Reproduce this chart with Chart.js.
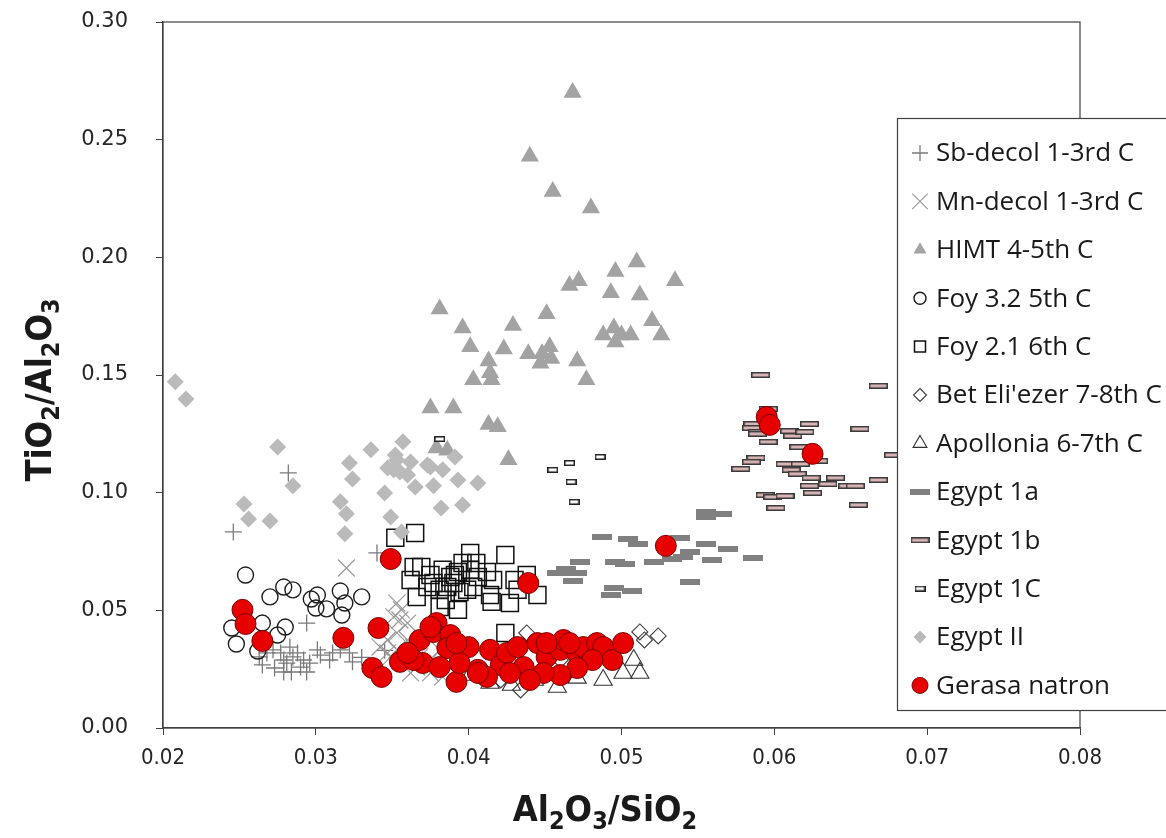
<!DOCTYPE html>
<html>
<head>
<meta charset="utf-8">
<script src="https://cdn.jsdelivr.net/npm/chart.js@4.4.1/dist/chart.umd.min.js"></script>
<style>
  html, body { margin: 0; padding: 0; background: #ffffff; }
  #wrap { position: relative; width: 1166px; height: 838px; }
</style>
</head>
<body>
<div id="wrap"><canvas id="chart" width="1166" height="838"></canvas></div>
<script>
// axis ranges and tick steps
const xTicks = [0.02, 0.03, 0.04, 0.05, 0.06, 0.07, 0.08];
const yTicks = [0.00, 0.05, 0.10, 0.15, 0.20, 0.25, 0.30];

// series values: [Al2O3/SiO2, TiO2/Al2O3]
const sbDecol = [
  [0.0282, 0.1084], [0.0246, 0.0833], [0.0294, 0.0446], [0.0340, 0.0744],
  [0.0268, 0.0319], [0.0272, 0.0332], [0.0277, 0.0319], [0.0279, 0.0289], [0.0281, 0.0276],
  [0.0283, 0.0344], [0.0285, 0.0302], [0.0288, 0.0319], [0.0292, 0.0289], [0.0290, 0.0259],
  [0.0296, 0.0276], [0.0301, 0.0332], [0.0303, 0.0310], [0.0309, 0.0289], [0.0311, 0.0319],
  [0.0316, 0.0332], [0.0322, 0.0319], [0.0324, 0.0281], [0.0265, 0.0268], [0.0273, 0.0255],
  [0.0279, 0.0238], [0.0284, 0.0238], [0.0294, 0.0238], [0.0263, 0.0302], [0.0330, 0.0300],
  [0.0345, 0.0330]
];
const mnDecol = [
  [0.0320, 0.0680], [0.0353, 0.0531], [0.0356, 0.0502], [0.0351, 0.0472], [0.0360, 0.0446],
  [0.0353, 0.0404], [0.0347, 0.0374], [0.0360, 0.0374], [0.0364, 0.0344], [0.0353, 0.0332],
  [0.0349, 0.0302], [0.0368, 0.0302], [0.0357, 0.0289], [0.0375, 0.0289], [0.0366, 0.0259],
  [0.0379, 0.0259], [0.0362, 0.0234], [0.0375, 0.0234], [0.0383, 0.0217], [0.0342, 0.0344],
  [0.0381, 0.0332], [0.0355, 0.0459], [0.0347, 0.0319]
];
const himt = [
  [0.0468, 0.270], [0.0440, 0.243], [0.0455, 0.228], [0.0480, 0.221], [0.0510, 0.198],
  [0.0496, 0.194], [0.0535, 0.190], [0.0472, 0.190], [0.0466, 0.188], [0.0493, 0.185],
  [0.0512, 0.184], [0.0381, 0.178], [0.0396, 0.170], [0.0429, 0.171], [0.0451, 0.176],
  [0.0520, 0.173], [0.0526, 0.167], [0.0488, 0.167], [0.0495, 0.170], [0.0500, 0.167],
  [0.0506, 0.167], [0.0496, 0.164], [0.0401, 0.162], [0.0423, 0.161], [0.0439, 0.159],
  [0.0448, 0.159], [0.0453, 0.162], [0.0454, 0.157], [0.0447, 0.155], [0.0471, 0.156],
  [0.0413, 0.156], [0.0414, 0.151], [0.0403, 0.148], [0.0415, 0.148], [0.0477, 0.148],
  [0.0375, 0.136], [0.0390, 0.136], [0.0413, 0.129], [0.0419, 0.128], [0.0426, 0.114],
  [0.0379, 0.119], [0.0386, 0.118]
];
const foy32 = [
  [0.0254, 0.0650], [0.0270, 0.0557], [0.0279, 0.0599], [0.0285, 0.0587], [0.0297, 0.0548],
  [0.0301, 0.0565], [0.0300, 0.0510], [0.0307, 0.0506], [0.0316, 0.0582], [0.0319, 0.0531],
  [0.0317, 0.0480], [0.0330, 0.0557], [0.0245, 0.0425], [0.0248, 0.0357], [0.0265, 0.0446],
  [0.0280, 0.0429], [0.0275, 0.0395], [0.0262, 0.0327]
];
const foy21 = [
  [0.0352, 0.0808], [0.0365, 0.0829], [0.0364, 0.0684], [0.0369, 0.0684], [0.0362, 0.0629],
  [0.0366, 0.0557], [0.0373, 0.0599], [0.0377, 0.0616], [0.0383, 0.0672], [0.0381, 0.0587],
  [0.0386, 0.0599], [0.0390, 0.0616], [0.0388, 0.0642], [0.0393, 0.0663], [0.0396, 0.0701],
  [0.0401, 0.0744], [0.0401, 0.0672], [0.0405, 0.0701], [0.0406, 0.0642], [0.0403, 0.0599],
  [0.0399, 0.0587], [0.0394, 0.0578], [0.0381, 0.0514], [0.0393, 0.0502], [0.0412, 0.0663],
  [0.0416, 0.0629], [0.0414, 0.0565], [0.0424, 0.0735], [0.0415, 0.0536], [0.0430, 0.0629],
  [0.0432, 0.0587], [0.0438, 0.0650], [0.0445, 0.0565], [0.0427, 0.0531], [0.0424, 0.0404],
  [0.0375, 0.0650], [0.0391, 0.0650], [0.0385, 0.0544]
];
const betEliezer = [
  [0.0438, 0.0404], [0.0434, 0.0162], [0.0512, 0.0408], [0.0515, 0.0374], [0.0524, 0.0391],
  [0.0460, 0.0289], [0.0421, 0.0204]
];
const apollonia = [
  [0.0428, 0.0183], [0.0458, 0.0174], [0.0471, 0.0213], [0.0488, 0.0204], [0.0501, 0.0234],
  [0.0508, 0.0289], [0.0512, 0.0234], [0.0443, 0.0204], [0.0414, 0.0191], [0.0401, 0.0225]
];
const egypt1a = [
  [0.0487, 0.0812], [0.0504, 0.0803], [0.0511, 0.0782], [0.0538, 0.0808], [0.0555, 0.0782],
  [0.0570, 0.0761], [0.0545, 0.0748], [0.0540, 0.0727], [0.0533, 0.0718], [0.0521, 0.0706],
  [0.0559, 0.0714], [0.0586, 0.0723], [0.0473, 0.0706], [0.0496, 0.0706], [0.0502, 0.0697],
  [0.0464, 0.0676], [0.0458, 0.0659], [0.0471, 0.0659], [0.0468, 0.0625], [0.0545, 0.0621],
  [0.0495, 0.0595], [0.0507, 0.0582], [0.0493, 0.0565], [0.0555, 0.0918], [0.0555, 0.0897],
  [0.0566, 0.0910]
];
const egypt1b = [
  [0.0591, 0.1500], [0.0668, 0.1454], [0.0596, 0.1356], [0.0586, 0.1292], [0.0585, 0.1275],
  [0.0589, 0.1258], [0.0589, 0.1250], [0.0596, 0.1216], [0.0610, 0.1262], [0.0612, 0.1241],
  [0.0620, 0.1258], [0.0623, 0.1292], [0.0656, 0.1271], [0.0616, 0.1194], [0.0588, 0.1148],
  [0.0585, 0.1131], [0.0578, 0.1101], [0.0607, 0.1122], [0.0617, 0.1122], [0.0629, 0.1135],
  [0.0611, 0.1097], [0.0615, 0.1080], [0.0624, 0.1063], [0.0640, 0.1063], [0.0668, 0.1054],
  [0.0623, 0.1029], [0.0635, 0.1037], [0.0648, 0.1029], [0.0653, 0.1029], [0.0625, 0.0999],
  [0.0594, 0.0990], [0.0599, 0.0982], [0.0607, 0.0986], [0.0655, 0.0948], [0.0601, 0.0935],
  [0.0678, 0.1160]
];
const egypt1c = [
  [0.0381, 0.1228], [0.0466, 0.1126], [0.0455, 0.1097], [0.0486, 0.1152], [0.0467, 0.1046],
  [0.0469, 0.0961]
];
const egypt2 = [
  [0.0208, 0.1471], [0.0215, 0.1398], [0.0275, 0.1194], [0.0285, 0.1029], [0.0253, 0.0952],
  [0.0256, 0.0888], [0.0270, 0.0880], [0.0322, 0.1126], [0.0324, 0.1058], [0.0336, 0.1182],
  [0.0316, 0.0961], [0.0320, 0.0910], [0.0319, 0.0825], [0.0345, 0.0999], [0.0349, 0.0897],
  [0.0356, 0.0833], [0.0357, 0.1216], [0.0353, 0.1139], [0.0351, 0.1097], [0.0355, 0.1088],
  [0.0347, 0.1105], [0.0360, 0.1075], [0.0365, 0.1024], [0.0373, 0.1118], [0.0377, 0.1029],
  [0.0383, 0.1097], [0.0391, 0.1152], [0.0393, 0.1054], [0.0406, 0.1041], [0.0382, 0.0935],
  [0.0396, 0.0948], [0.0375, 0.1109], [0.0352, 0.1160], [0.0362, 0.1130]
];
const gerasa = [
  [0.0252, 0.0502], [0.0254, 0.0442], [0.0265, 0.0370], [0.0318, 0.0383], [0.0341, 0.0425],
  [0.0349, 0.0718], [0.0337, 0.0255], [0.0343, 0.0217], [0.0355, 0.0281], [0.0439, 0.0616],
  [0.0368, 0.0374], [0.0379, 0.0446], [0.0377, 0.0408], [0.0388, 0.0395], [0.0370, 0.0276],
  [0.0386, 0.0340], [0.0392, 0.0196], [0.0400, 0.0344], [0.0406, 0.0247], [0.0414, 0.0332],
  [0.0421, 0.0268], [0.0425, 0.0319], [0.0432, 0.0344], [0.0436, 0.0259], [0.0445, 0.0361],
  [0.0451, 0.0302], [0.0460, 0.0332], [0.0462, 0.0374], [0.0471, 0.0319], [0.0475, 0.0344],
  [0.0484, 0.0361], [0.0488, 0.0344], [0.0494, 0.0289], [0.0501, 0.0361], [0.0481, 0.0289],
  [0.0471, 0.0255], [0.0460, 0.0225], [0.0449, 0.0234], [0.0440, 0.0204], [0.0427, 0.0234],
  [0.0412, 0.0217], [0.0406, 0.0234], [0.0394, 0.0276], [0.0381, 0.0259], [0.0364, 0.0289],
  [0.0360, 0.0319], [0.0375, 0.0429], [0.0392, 0.0361], [0.0451, 0.0361], [0.0466, 0.0361],
  [0.0595, 0.1322], [0.0597, 0.1288], [0.0625, 0.1165], [0.0529, 0.0774]
];

// small canvases used as point styles for the dash markers
function dashIcon(w, h, fill, stroke) {
  const c = document.createElement('canvas');
  c.width = w;
  c.height = h;
  const g = c.getContext('2d');
  g.fillStyle = fill;
  g.fillRect(0, 0, w, h);
  if (stroke) {
    g.strokeStyle = stroke;
    g.lineWidth = 1.5;
    g.strokeRect(0.75, 0.75, w - 1.5, h - 1.5);
  }
  return c;
}
const dash1a = dashIcon(20, 6, '#808080', null);
const dash1b = dashIcon(19, 6, '#d8b4b4', '#3a3a3a');
const dash1c = dashIcon(11, 6, '#ffffff', '#222222');

// series definitions, bottom to top in drawing order
const series = [
  { label: 'Sb-decol 1-3rd C', data: sbDecol, style: 'cross', r: 8.5, fill: 'transparent', stroke: '#7a7a7a', bw: 1.3, lr: 8 },
  { label: 'Mn-decol 1-3rd C', data: mnDecol, style: 'crossRot', r: 12, fill: 'transparent', stroke: '#9a9a9a', bw: 1.2, lr: 11 },
  { label: 'HIMT 4-5th C', data: himt, style: 'triangle', r: 10.5, fill: '#a3a3a3', stroke: '#a3a3a3', bw: 0, lr: 7.5 },
  { label: 'Foy 3.2 5th C', data: foy32, style: 'circle', r: 8, fill: 'transparent', stroke: '#1e1e1e', bw: 1.4, lr: 6 },
  { label: 'Foy 2.1 6th C', data: foy21, style: 'rect', r: 12, fill: 'transparent', stroke: '#111111', bw: 1.5, lr: 9 },
  { label: "Bet Eli'ezer 7-8th C", data: betEliezer, style: 'rectRot', r: 8, fill: 'transparent', stroke: '#3c3c3c', bw: 1.1, lr: 6.5 },
  { label: 'Apollonia 6-7th C', data: apollonia, style: 'triangle', r: 10.5, fill: 'transparent', stroke: '#333333', bw: 1.1, lr: 8 },
  { label: 'Egypt 1a', data: egypt1a, style: dash1a, r: 10, fill: '#808080', stroke: '#808080', bw: 0, lr: 0 },
  { label: 'Egypt 1b', data: egypt1b, style: dash1b, r: 10, fill: '#d8b4b4', stroke: '#3a3a3a', bw: 0, lr: 0 },
  { label: 'Egypt 1C', data: egypt1c, style: dash1c, r: 6, fill: '#ffffff', stroke: '#222222', bw: 0, lr: 0 },
  { label: 'Egypt II', data: egypt2, style: 'rectRot', r: 8.5, fill: '#bababa', stroke: '#bababa', bw: 0, lr: 6.5 },
  { label: 'Gerasa natron', data: gerasa, style: 'circle', r: 10.5, fill: '#e60000', stroke: '#7a0000', bw: 1, lr: 8 }
];

// draws a marker by hand (used for the legend)
function drawMarker(ctx, s, x, y) {
  const r = s.lr;
  if (typeof s.style !== 'string') {
    const img = s.style;
    ctx.drawImage(img, x - img.width / 2, y - img.height / 2);
    return;
  }
  ctx.save();
  ctx.fillStyle = s.fill;
  ctx.strokeStyle = s.stroke;
  ctx.lineWidth = s.bw || 1;
  ctx.beginPath();
  if (s.style === 'cross') {
    ctx.moveTo(x - r, y); ctx.lineTo(x + r, y);
    ctx.moveTo(x, y - r); ctx.lineTo(x, y + r);
    ctx.stroke();
  } else if (s.style === 'crossRot') {
    const d = r * Math.SQRT1_2;
    ctx.moveTo(x - d, y - d); ctx.lineTo(x + d, y + d);
    ctx.moveTo(x - d, y + d); ctx.lineTo(x + d, y - d);
    ctx.stroke();
  } else if (s.style === 'triangle') {
    ctx.moveTo(x, y - r);
    ctx.lineTo(x + r * 0.866, y + r * 0.5);
    ctx.lineTo(x - r * 0.866, y + r * 0.5);
    ctx.closePath();
    if (s.fill !== 'transparent') ctx.fill();
    if (s.bw) ctx.stroke();
  } else if (s.style === 'circle') {
    ctx.arc(x, y, r, 0, Math.PI * 2);
    if (s.fill !== 'transparent') ctx.fill();
    ctx.stroke();
  } else if (s.style === 'rect') {
    ctx.rect(x - r / 2 - 1, y - r / 2 - 1, r + 2, r + 2);
    ctx.stroke();
  } else if (s.style === 'rectRot') {
    ctx.moveTo(x, y - r); ctx.lineTo(x + r, y); ctx.lineTo(x, y + r); ctx.lineTo(x - r, y);
    ctx.closePath();
    if (s.fill !== 'transparent') ctx.fill();
    if (s.bw) ctx.stroke();
  }
  ctx.restore();
}

// legend box sitting over the right part of the plot
const legendBox = {
  id: 'legendBox',
  afterDraw(chart) {
    const ctx = chart.ctx;
    const left = 897, top = 118, bottom = 710, rowTop = 153, rowStep = 48.4;
    ctx.save();
    ctx.fillStyle = '#ffffff';
    ctx.fillRect(left, top, chart.width - left + 10, bottom - top);
    ctx.strokeStyle = '#404040';
    ctx.lineWidth = 1.2;
    ctx.strokeRect(left + 0.5, top + 0.5, chart.width - left + 10, bottom - top);
    ctx.font = '26px "Open Sans", sans-serif';
    ctx.textBaseline = 'middle';
    series.forEach((s, i) => {
      const y = rowTop + i * rowStep;
      drawMarker(ctx, s, 920, y);
      ctx.fillStyle = '#1a1a1a';
      ctx.fillText(s.label, 936, y + 1);
    });
    ctx.restore();
  }
};

// plot frame and axis titles with subscripts
function drawSubText(ctx, parts, size, subSize) {
  let total = 0;
  parts.forEach(p => {
    ctx.font = `bold ${p[1] ? subSize : size}px "Liberation Sans Narrow", "DejaVu Sans Condensed", sans-serif`;
    total += ctx.measureText(p[0]).width;
  });
  let x = -total / 2;
  parts.forEach(p => {
    ctx.font = `bold ${p[1] ? subSize : size}px "Liberation Sans Narrow", "DejaVu Sans Condensed", sans-serif`;
    ctx.fillText(p[0], x, p[1] ? size * 0.28 : 0);
    x += ctx.measureText(p[0]).width;
  });
}
const frameAndTitles = {
  id: 'frameAndTitles',
  beforeDatasetsDraw(chart) {
    const { ctx, chartArea: a } = chart;
    ctx.save();
    ctx.strokeStyle = '#404040';
    ctx.lineWidth = 1.2;
    ctx.strokeRect(a.left, a.top, a.right - a.left, a.bottom - a.top);
    ctx.restore();
  },
  afterDraw(chart) {
    const ctx = chart.ctx;
    ctx.save();
    ctx.fillStyle = '#1a1a1a';
    ctx.textBaseline = 'middle';
    ctx.translate(605, 812);
    drawSubText(ctx, [['Al', false], ['2', true], ['O', false], ['3', true], ['/SiO', false], ['2', true]], 36, 25);
    ctx.restore();
    ctx.save();
    ctx.fillStyle = '#1a1a1a';
    ctx.textBaseline = 'middle';
    ctx.translate(42, 390);
    ctx.rotate(-Math.PI / 2);
    drawSubText(ctx, [['TiO', false], ['2', true], ['/Al', false], ['2', true], ['O', false], ['3', true]], 36, 25);
    ctx.restore();
  }
};

const datasets = series.map((s, i) => ({
  label: s.label,
  data: s.data.map(p => ({ x: p[0], y: p[1] })),
  pointStyle: s.style,
  pointRadius: s.r,
  pointBackgroundColor: s.fill,
  pointBorderColor: s.stroke,
  pointBorderWidth: s.bw,
  showLine: false,
  order: series.length - i
}));

new Chart(document.getElementById('chart'), {
  type: 'scatter',
  data: { datasets: datasets },
  options: {
    responsive: false,
    animation: false,
    events: [],
    layout: { padding: { top: 22, right: 86, left: 0, bottom: 0 } },
    plugins: { legend: { display: false }, tooltip: { enabled: false } },
    scales: {
      x: {
        type: 'linear',
        min: xTicks[0],
        max: xTicks[xTicks.length - 1],
        afterBuildTicks: (scale) => { scale.ticks = xTicks.map(v => ({ value: v })); },
        afterFit: (scale) => { scale.height = 110; },
        border: { display: true, color: '#404040', width: 1.2 },
        grid: { display: true, drawOnChartArea: false, drawTicks: true, tickLength: 7, color: '#404040' },
        ticks: {
          padding: 10,
          color: '#262626',
          font: { family: '"Liberation Sans Narrow", "DejaVu Sans Condensed", sans-serif', size: 22 },
          callback: (v) => v.toFixed(2)
        }
      },
      y: {
        type: 'linear',
        min: yTicks[0],
        max: yTicks[yTicks.length - 1],
        afterBuildTicks: (scale) => { scale.ticks = yTicks.map(v => ({ value: v })); },
        afterFit: (scale) => {
          scale.width = 163;
          scale.paddingTop = 10;
          scale.paddingBottom = 10;
        },
        border: { display: true, color: '#404040', width: 1.2 },
        grid: { display: true, drawOnChartArea: false, drawTicks: true, tickLength: 7, color: '#404040' },
        ticks: {
          padding: 28,
          color: '#262626',
          font: { family: '"DejaVu Sans", sans-serif', size: 21 },
          callback: (v) => v.toFixed(2)
        }
      }
    }
  },
  plugins: [frameAndTitles, legendBox]
});
</script>
</body>
</html>
